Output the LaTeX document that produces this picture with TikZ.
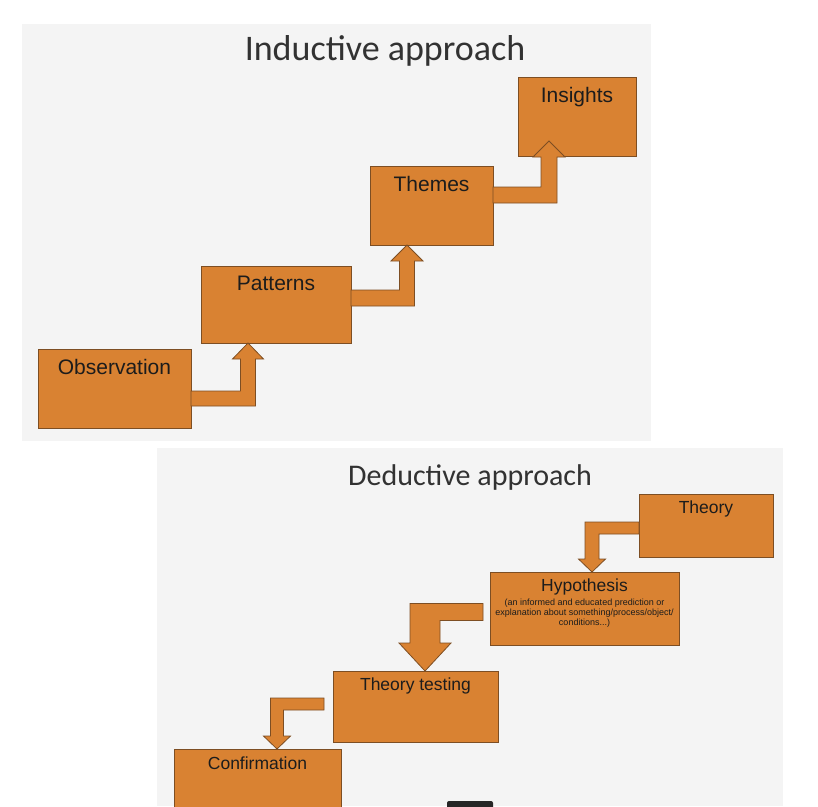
\documentclass[tikz,border=0pt]{standalone}
\usepackage{fontspec}
\setmainfont{Liberation Sans}
\newfontfamily\titlefont{Carlito}
\usetikzlibrary{calc}

\definecolor{panelgray}{RGB}{244,244,244}
\definecolor{boxfill}{RGB}{217,130,50}
\definecolor{boxline}{RGB}{125,78,35}
\definecolor{textdark}{RGB}{28,28,28}
\definecolor{titlegray}{RGB}{50,50,50}

% bent block arrow: start, tip, half bar, half stem, half head, head length
\newcommand{\bendarrow}[6]{%
\path[blockarrow] let \p1 = (#2), \p2 = (#1) in
 (\x2, \y2+#3) -- (\x1-#4, \y2+#3) -- (\x1-#4, \y1+#6) -- (\x1-#5, \y1+#6) -- (\x1, \y1) -- (\x1+#5, \y1+#6) -- (\x1+#4, \y1+#6) -- (\x1+#4, \y2-#3) -- (\x2, \y2-#3) -- cycle;
}

\begin{document}
\begin{tikzpicture}[x=1pt, y=-1pt,
  box/.style={draw=boxline, fill=boxfill, line width=0.8pt, inner sep=0pt, outer sep=0pt, anchor=north west},
  biglbl/.style={anchor=north, yshift=-10pt, inner sep=0pt, text=textdark, font=\fontsize{21}{25}\selectfont},
  lbl/.style={anchor=north, yshift=-7pt, inner sep=0pt, text=textdark, font=\fontsize{17.5}{21}\selectfont},
  sublbl/.style={anchor=north, yshift=-27pt, inner sep=0pt, text=textdark, align=center, font=\fontsize{9}{10}\selectfont},
  blockarrow/.style={draw=boxline, fill=boxfill, line width=0.8pt, line join=miter}]

\useasboundingbox (0, 0) rectangle (818, 806);
\clip (0, 0) rectangle (818, 806);
\fill[white] (0, 0) rectangle (818, 806);

% panels
\fill[panelgray] (22, 24) rectangle (651, 441);
\fill[panelgray] (157, 448) rectangle (783, 806);

% inductive
\node[anchor=base, text=titlegray, font=\titlefont\fontsize{36}{40}\selectfont] (indtitle) at (385, 60) {Inductive approach};

\node[box, minimum width=153pt, minimum height=79pt, label={[biglbl]north:Observation}] (obs) at (38, 349) {};
\node[box, minimum width=150pt, minimum height=77pt, label={[biglbl]north:Patterns}] (pat) at (201, 266) {};
\node[box, minimum width=123pt, minimum height=79pt, label={[biglbl]north:Themes}] (thm) at (370, 166) {};
\node[box, minimum width=118pt, minimum height=79pt, label={[biglbl]north:Insights}] (ins) at (518, 77) {};

\bendarrow{$(obs.south east)+(0,-29.5)$}{$(pat.south west)+(47,0)$}{7.5pt}{7.5pt}{15.5pt}{-16pt}
\bendarrow{$(pat.south east)+(0,-45)$}{$(thm.south west)+(37,0)$}{8pt}{7.5pt}{16pt}{-16pt}
\bendarrow{$(thm.south east)+(0,-50)$}{$(ins.south west)+(31,-15)$}{8pt}{8pt}{16pt}{-16pt}

% deductive
\node[anchor=base, text=titlegray, font=\titlefont\fontsize{30}{34}\selectfont] (dedtitle) at (470, 485) {Deductive approach};

\node[box, minimum width=134pt, minimum height=63pt, label={[lbl]north:Theory}] (thy) at (639, 494) {};
\node[box, minimum width=189pt, minimum height=73pt, label={[lbl]north:Hypothesis},
  label={[sublbl]north:(an informed and educated prediction or\\explanation about something/process/object/\\conditions...)}] (hyp) at (490, 572) {};
\node[box, minimum width=165pt, minimum height=71pt, label={[lbl]north:Theory testing}] (tst) at (333, 671) {};
\node[box, minimum width=167pt, minimum height=80pt, label={[lbl, yshift=-1pt]north:Confirmation}] (con) at (174, 749) {};

\bendarrow{$(thy.south west)+(0,-29)$}{$(hyp.north west)+(102,0)$}{6pt}{7pt}{13.5pt}{13pt}
\bendarrow{$(hyp.south west)+(-7,-33)$}{$(tst.north west)+(92,0)$}{8.5pt}{15pt}{26pt}{28pt}
\bendarrow{$(tst.south west)+(-9,-38)$}{$(con.north west)+(103,0)$}{6pt}{6.5pt}{13.5pt}{13pt}

\fill[black!85, rounded corners=2pt] (447, 801) rectangle (493, 812);

\end{tikzpicture}
\end{document}
